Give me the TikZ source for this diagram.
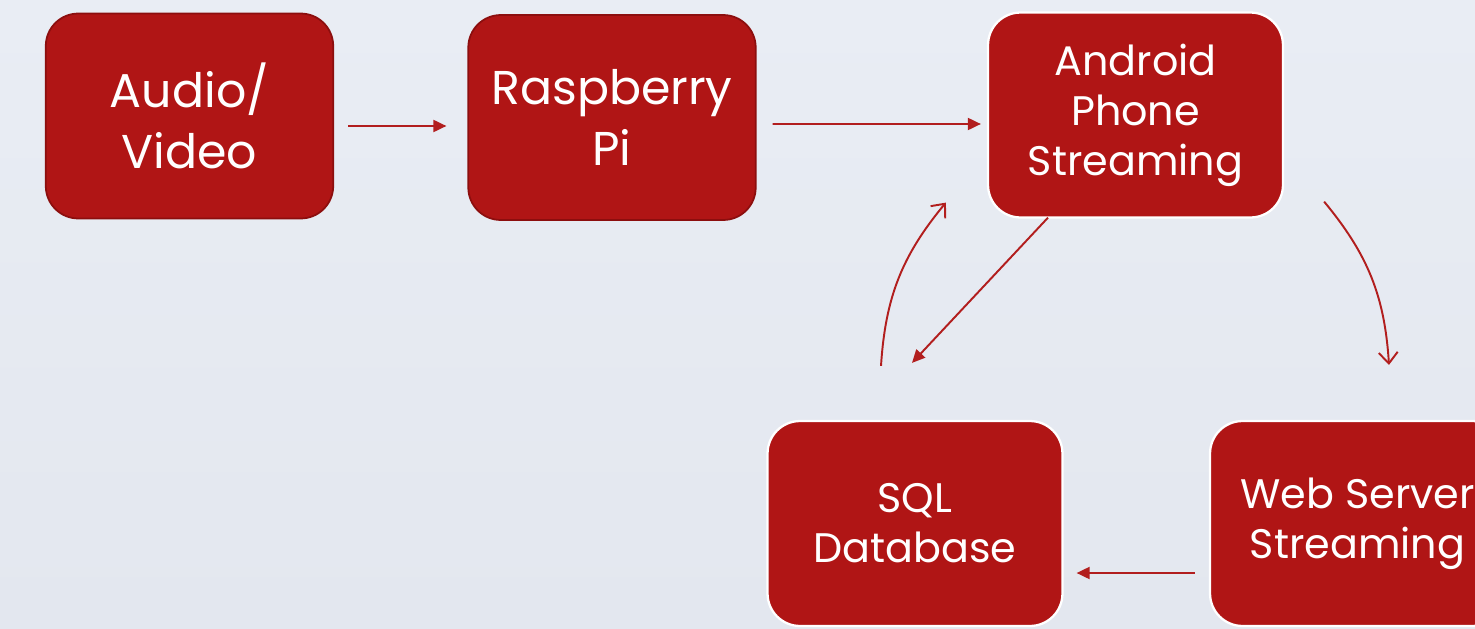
\documentclass[tikz,border=0pt]{standalone}
\usepackage{fontspec}
\setmainfont{Poppins}
\usetikzlibrary{arrows.meta}
\definecolor{boxred}{RGB}{176,21,21}
\definecolor{boxrim}{RGB}{140,14,14}
\definecolor{linkred}{RGB}{178,30,30}
\definecolor{bgtop}{RGB}{233,237,244}
\definecolor{bgbot}{RGB}{227,231,239}

\begin{document}
\begin{tikzpicture}[x=0.02cm,y=0.02cm,
    box/.style={rectangle,rounded corners=0.65cm,fill=boxred,text=white,align=center,
                minimum width=5.75cm,minimum height=4.1cm,inner sep=0pt},
    darkbox/.style={box,draw=boxrim,line width=1pt,font=\fontsize{27}{35}\selectfont},
    litebox/.style={box,draw=white,line width=1.3pt,minimum width=5.9cm,
                    font=\fontsize{23.5}{28.5}\selectfont},
    link/.style={draw=linkred,line width=1.1pt,-{Triangle[length=0.26cm,width=0.24cm]}},
    curl/.style={draw=linkred,line width=1.1pt,-{Straight Barb[length=0.22cm,width=0.38cm]}}]
    %background
    \useasboundingbox (0,0) rectangle (1475,-629);
    \shade[top color=bgtop,bottom color=bgbot] (0,0) rectangle (1475,-629);
    \clip (0,0) rectangle (1475,-629);

    %top row
    \node[darkbox] (audio) at (189.5,-116) {Audio/\\Video};
    \node[darkbox] (pi) at (612,-117.5) {Raspberry\\Pi};
    \node[litebox] (phone) at (1135.5,-115) {Android\\Phone\\Streaming};

    %bottom row
    \node[litebox] (sql) at (915,-523.5) {SQL\\Database};
    \node[litebox] (web) at (1357.5,-523.5) {Web Server\\Streaming};

    %links
    \draw[link,shorten <=0.28cm,shorten >=0.42cm]
        ([yshift=-0.2cm]audio.east) -- ([yshift=-0.17cm]pi.west);
    \draw[link,shorten <=0.32cm,shorten >=0.12cm]
        ([yshift=-0.13cm]pi.east) -- ([yshift=-0.18cm]phone.west);
    \draw[curl] ([shift={(40,17)}]phone.south east) to[bend left=18]
                ([shift={(31.5,55)}]web.north);
    \draw[link] ([shift={(-87.5,1)}]phone.south) -- ([shift={(-3,57)}]sql.north);
    \draw[curl] ([shift={(-34,54)}]sql.north) to[bend left=18]
                ([shift={(-41,16)}]phone.south west);
    \draw[link] ([shift={(-14,-49.5)}]web.west) -- ([shift={(13,-49.5)}]sql.east);
\end{tikzpicture}
\end{document}
